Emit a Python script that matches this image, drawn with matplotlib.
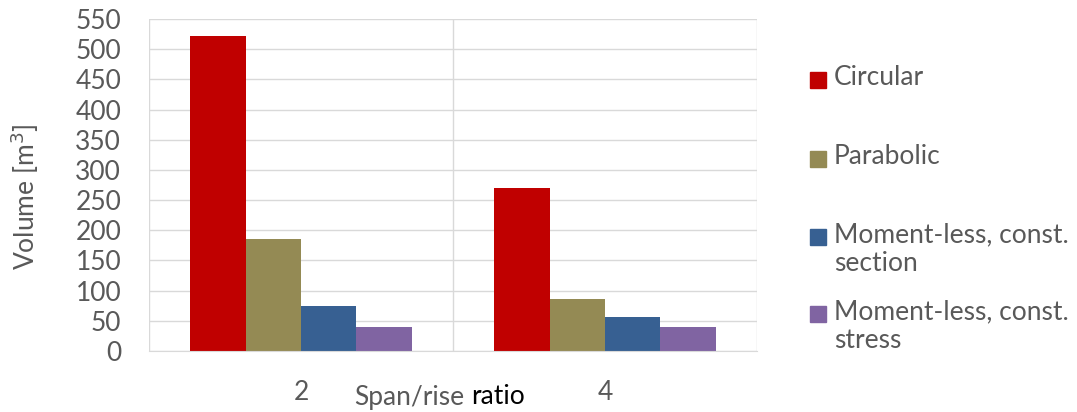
import matplotlib.pyplot as plt
import numpy as np
from matplotlib.patches import Rectangle

plt.rcParams['font.family'] = ['Lato', 'DejaVu Sans']

# volumes per span/rise ratio
ratios = ['2', '4']
circular = [522, 270]
parabolic = [185, 86]
momentless_section = [74, 57]
momentless_stress = [39, 40]

series = [circular, parabolic, momentless_section, momentless_stress]
names = ['Circular', 'Parabolic', 'Moment-less, const.\nsection', 'Moment-less, const.\nstress']
colors = ['#C00000', '#948A54', '#376092', '#8064A2']
grey = '#595959'
fs = 19

fig = plt.figure(figsize=(10.77, 4.12), dpi=100)
ax = fig.add_axes([149/1077, 1 - 351/412, (757 - 149)/1077, (351 - 19)/412])

x = np.arange(len(ratios))
w = 0.1825
for i, (vals, c) in enumerate(zip(series, colors)):
    ax.bar(x + (i - 1.5)*w, vals, w, color=c, linewidth=0, zorder=3)

ax.set_xlim(-0.5, 1.5)
ax.set_ylim(0, 550)
ax.set_yticks(np.arange(0, 551, 50))
ax.set_xticks(x)
ax.set_xticklabels(ratios)

# grid: horizontal at each tick, vertical between categories
ax.grid(axis='y', color='#D9D9D9', linewidth=1, zorder=0)
for b in [-0.5, 0.5, 1.5]:
    ax.axvline(b, color='#D9D9D9', linewidth=1, zorder=0)
for s in ['top', 'right', 'left']:
    ax.spines[s].set_visible(False)
ax.spines['bottom'].set_color('#D9D9D9')
ax.spines['bottom'].set_zorder(4)

ax.tick_params(axis='both', length=0, labelsize=fs, colors=grey)
ax.tick_params(axis='y', pad=20)
ax.tick_params(axis='x', pad=21)

fig.text(25/1077, 1 - 197/412, 'Volume [m$^3$]', rotation=90, ha='center', va='center',
         fontsize=fs, color=grey)
fig.text(464/1077, 1 - 397/412, 'Span/rise', ha='right', va='center', fontsize=fs, color=grey)
fig.text(471/1077, 1 - 397/412, 'ratio', ha='left', va='center', fontsize=fs, color='black')

# legend, square aligned with first line of each entry
legend_y = [80, 159, 237, 314]
for name, c, yy in zip(names, colors, legend_y):
    fig.patches.append(Rectangle((810/1077, 1 - (yy + 8)/412), 16/1077, 16/412,
                                 color=c, transform=fig.transFigure, figure=fig))
    fig.text(834/1077, 1 - (yy - 15)/412, name, ha='left', va='top', fontsize=fs,
             color=grey, linespacing=1.2)

fig.savefig('out.png', dpi=100)
